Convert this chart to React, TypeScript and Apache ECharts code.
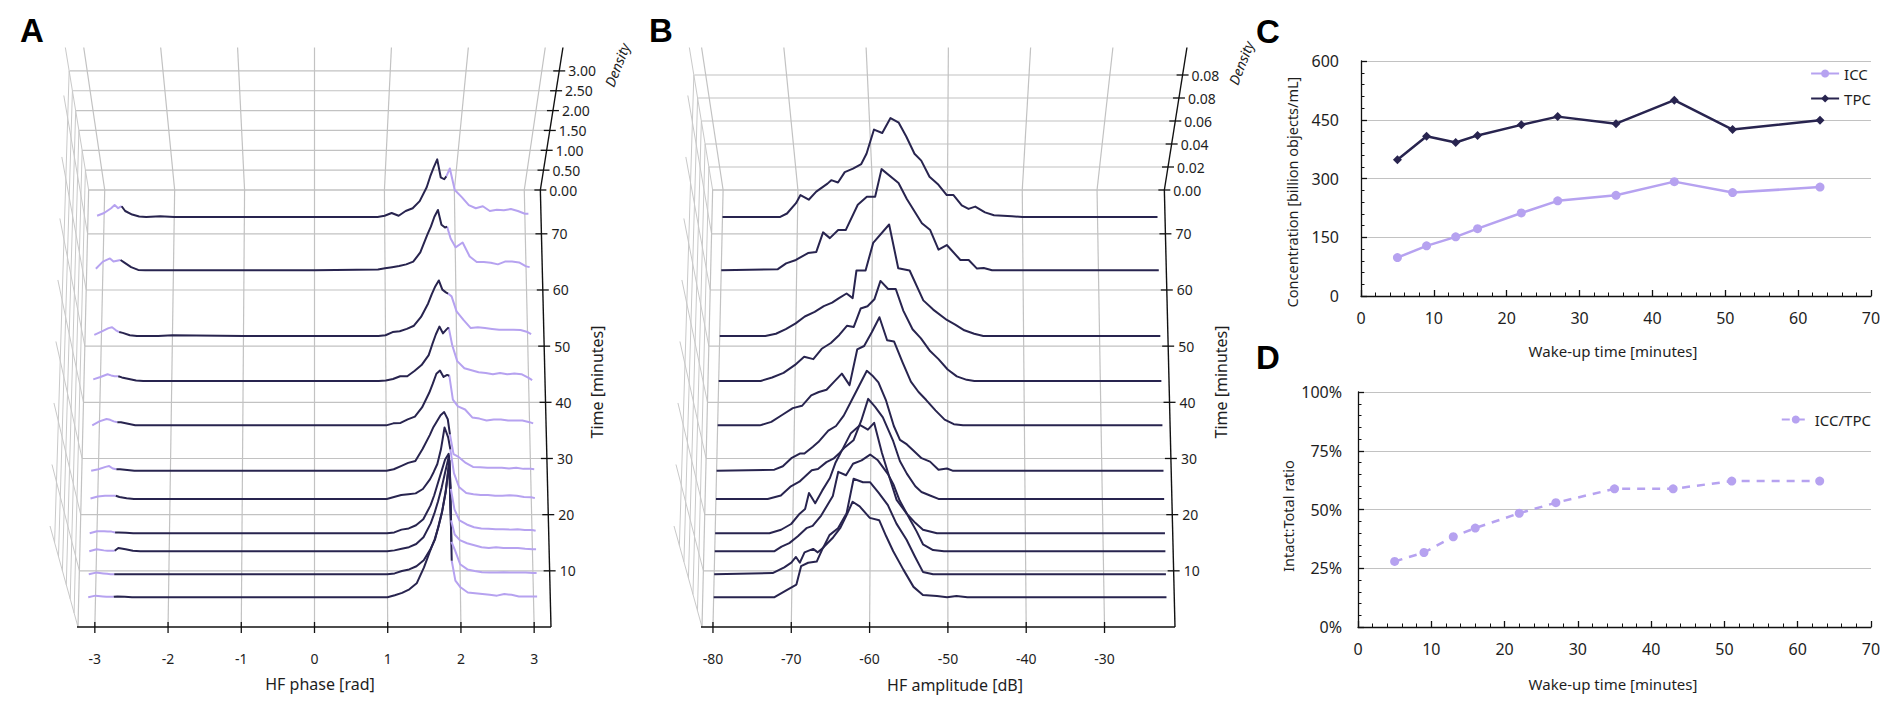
import React, { useEffect, useRef } from 'react';
import * as echarts from 'echarts';

// ---------------- Panel A: HF phase ridgelines ----------------
const A_X = [-3.1, -3.0, -2.9, -2.85, -2.8, -2.75, -2.7, -2.6, -2.5, -2.4, -2.2, -2.0, -1.0, 0, 0.9, 1.0, 1.1, 1.2, 1.3, 1.4, 1.5, 1.6, 1.65, 1.7, 1.75, 1.8, 1.85, 1.88, 1.93, 2.0, 2.1, 2.2, 2.3, 2.4, 2.5, 2.6, 2.7, 2.8, 2.9, 3.0, 3.05];
const A_TIMES = [5.3, 9.4, 13.5, 16.7, 22.8, 27.8, 35.9, 43.8, 51.8, 63.5, 73.0];
const A_T05 = [0, 0.04, 0.02, 0.01, 0.01, 0.01, 0.02, 0.01, 0, 0, 0, 0, 0, 0, 0, 0, 0.05, 0.11, 0.2, 0.35, 0.75, 1.25, 1.45, 1.8, 2.18, 2.7, 3.45, 0.92, 0.42, 0.25, 0.12, 0.1, 0.08, 0.06, 0.04, 0.08, 0.06, 0.02, 0.02, 0.02, 0.02];
const A_T09 = [0, 0.04, 0.02, 0.01, 0, 0, 0, 0, 0, 0, 0, 0, 0, 0, 0, 0, 0.02, 0.08, 0.12, 0.2, 0.35, 0.65, 0.88, 1.18, 1.55, 2.05, 2.85, 0.82, 0.6, 0.25, 0.12, 0.08, 0.05, 0.04, 0.04, 0.05, 0.04, 0.04, 0.04, 0.03, 0.03];
const A_T13 = [0, 0.05, 0.02, 0.01, 0.01, 0.01, 0.08, 0.05, 0.01, 0, 0, 0, 0, 0, 0, 0, 0.02, 0.06, 0.1, 0.18, 0.35, 0.7, 0.95, 1.25, 1.6, 2.0, 2.4, 0.78, 0.42, 0.28, 0.2, 0.15, 0.1, 0.08, 0.1, 0.08, 0.08, 0.08, 0.06, 0.05, 0.05];
const A_T16 = [0, 0.05, 0.05, 0.04, 0.04, 0.02, 0.02, 0.01, 0, 0, 0, 0, 0, 0, 0, 0, 0.02, 0.09, 0.12, 0.2, 0.35, 0.7, 0.95, 1.25, 1.55, 1.85, 2.0, 1.12, 0.6, 0.32, 0.22, 0.15, 0.12, 0.11, 0.1, 0.1, 0.09, 0.1, 0.08, 0.08, 0.06];
const A_T22 = [0.01, 0.06, 0.08, 0.08, 0.08, 0.08, 0.05, 0.02, 0, 0, 0, 0, 0, 0, 0, 0, 0.05, 0.1, 0.12, 0.14, 0.25, 0.5, 0.68, 0.88, 1.25, 1.8, 1.55, 1.25, 0.65, 0.3, 0.15, 0.12, 0.1, 0.1, 0.08, 0.08, 0.09, 0.08, 0.05, 0.04, 0.02];
const A_T27 = [0, 0.04, 0.1, 0.12, 0.06, 0.04, 0.04, 0.02, 0, 0, 0, 0, 0, 0, 0, 0, 0.04, 0.12, 0.2, 0.25, 0.55, 0.9, 1.1, 1.25, 1.4, 1.48, 1.3, 0.92, 0.42, 0.35, 0.2, 0.1, 0.09, 0.08, 0.08, 0.08, 0.06, 0.08, 0.05, 0.05, 0.04];
const A_T35 = [0, 0.1, 0.16, 0.14, 0.1, 0.08, 0.08, 0.04, 0, 0, 0, 0, 0, 0, 0, 0, 0.05, 0.06, 0.15, 0.22, 0.45, 0.82, 1.05, 1.3, 1.38, 1.22, 1.27, 1.25, 0.65, 0.48, 0.4, 0.2, 0.17, 0.12, 0.15, 0.15, 0.12, 0.12, 0.12, 0.08, 0.05];
const A_T43 = [0.04, 0.1, 0.17, 0.14, 0.12, 0.12, 0.09, 0.05, 0.01, 0, 0, 0, 0, 0, 0, 0.01, 0.05, 0.12, 0.12, 0.25, 0.4, 0.65, 0.92, 1.17, 1.37, 1.2, 1.3, 1.35, 0.9, 0.5, 0.32, 0.27, 0.22, 0.2, 0.17, 0.2, 0.17, 0.19, 0.17, 0.08, 0.02];
const A_T51 = [0.03, 0.11, 0.2, 0.22, 0.15, 0.1, 0.08, 0.02, 0, 0, 0, 0.02, 0, 0, 0, 0.02, 0.1, 0.12, 0.18, 0.26, 0.48, 0.82, 1.05, 1.25, 1.4, 1.17, 1.1, 1.07, 1.0, 0.62, 0.4, 0.2, 0.22, 0.2, 0.18, 0.16, 0.16, 0.16, 0.15, 0.1, 0.05];
const A_T63 = [0.04, 0.22, 0.3, 0.22, 0.24, 0.26, 0.2, 0.08, 0.01, 0, 0, 0, 0, 0, 0.02, 0.05, 0.08, 0.11, 0.15, 0.22, 0.45, 0.9, 1.1, 1.35, 1.52, 1.15, 1.08, 1.1, 0.8, 0.58, 0.7, 0.35, 0.21, 0.21, 0.19, 0.15, 0.22, 0.22, 0.2, 0.1, 0.08];
const A_T73 = [0.03, 0.1, 0.22, 0.3, 0.22, 0.27, 0.15, 0.06, 0.01, 0, 0.02, 0, 0, 0, 0, 0.03, 0.1, 0.03, 0.15, 0.22, 0.4, 0.75, 1.02, 1.25, 1.45, 1.0, 0.95, 1.02, 1.22, 0.68, 0.5, 0.3, 0.22, 0.27, 0.15, 0.18, 0.17, 0.2, 0.15, 0.08, 0.08];
const A_CURVES = [A_T05, A_T09, A_T13, A_T16, A_T22, A_T27, A_T35, A_T43, A_T51, A_T63, A_T73];
const A_DARK_FROM = -2.75;
const A_DARK_TO = 1.88;
const A_X_TICKS = [-3, -2, -1, 0, 1, 2, 3];
const A_D_TICKS = [0, 0.5, 1, 1.5, 2, 2.5, 3];
const A_D_LABELS = ['0.00', '0.50', '1.00', '1.50', '2.00', '2.50', '3.00'];

// ---------------- Panel B: HF amplitude ridgelines ----------------
const B_TIMES = [5.3, 9.4, 13.5, 16.7, 22.8, 27.8, 35.9, 43.8, 51.8, 63.5, 73.0];
const B_T05 = [[-80, 0], [-72.2, 0], [-70.7, 0.006], [-69.4, 0.011], [-68.8, 0.027], [-67.9, 0.03], [-66.8, 0.031], [-66, 0.043], [-64.7, 0.052], [-63.8, 0.06], [-63, 0.071], [-62.2, 0.083], [-61.3, 0.079], [-60, 0.069], [-58.8, 0.067], [-57.9, 0.053], [-57, 0.04], [-55.7, 0.024], [-54.4, 0.009], [-53.2, 0.002], [-51.4, 0.001], [-50.1, 0], [-48.9, 0.001], [-47.5, 0], [-22, 0]];
const B_T09 = [[-80, 0], [-72.5, 0.001], [-71, 0.006], [-70.1, 0.01], [-69.5, 0.015], [-69, 0.01], [-68.4, 0.019], [-67.3, 0.022], [-66.7, 0.019], [-66, 0.023], [-65.2, 0.034], [-64.1, 0.04], [-63, 0.053], [-62.1, 0.083], [-60.9, 0.08], [-60, 0.08], [-58.9, 0.071], [-57.7, 0.06], [-56.6, 0.044], [-55.3, 0.03], [-54.2, 0.015], [-53.2, 0.002], [-51.9, 0], [-22, 0]];
const B_T13 = [[-80, 0], [-72.3, 0], [-71.4, 0.004], [-70.4, 0.007], [-69.3, 0.013], [-68.2, 0.02], [-67.4, 0.022], [-66.3, 0.031], [-64.8, 0.048], [-64.1, 0.069], [-63.1, 0.066], [-62.2, 0.076], [-61.1, 0.079], [-60, 0.084], [-59, 0.079], [-57.7, 0.067], [-57, 0.058], [-56.2, 0.044], [-54.9, 0.028], [-54, 0.017], [-53.2, 0.006], [-51.9, 0.001], [-50.5, 0], [-22, 0]];
const B_T16 = [[-80, 0], [-73, 0], [-71.5, 0.003], [-70.2, 0.008], [-69.1, 0.017], [-68.4, 0.021], [-67.9, 0.035], [-67.1, 0.026], [-66.2, 0.037], [-65.2, 0.048], [-64.5, 0.061], [-63.5, 0.074], [-62.5, 0.087], [-61.3, 0.094], [-60.3, 0.09], [-59.5, 0.096], [-58.5, 0.07], [-57.5, 0.048], [-56.6, 0.029], [-55.3, 0.017], [-54.2, 0.009], [-53.2, 0.003], [-51.4, 0], [-22, 0]];
const B_T22 = [[-80, 0], [-73.3, 0], [-71.6, 0.003], [-70.3, 0.011], [-69.2, 0.015], [-67.6, 0.025], [-66.8, 0.026], [-65.7, 0.032], [-64.8, 0.035], [-64, 0.04], [-63.3, 0.045], [-62.2, 0.051], [-61.2, 0.068], [-60.3, 0.087], [-59.4, 0.08], [-58.4, 0.071], [-57.1, 0.051], [-56.2, 0.033], [-55.3, 0.022], [-54.2, 0.011], [-53.4, 0.006], [-52.3, 0.003], [-51.2, 0], [-22, 0]];
const B_T27 = [[-80, 0], [-72.5, 0.001], [-71.4, 0.004], [-70.3, 0.011], [-69.2, 0.015], [-68.6, 0.015], [-67.5, 0.021], [-66.8, 0.025], [-65.5, 0.035], [-64.5, 0.039], [-63.5, 0.048], [-62.5, 0.061], [-61.5, 0.074], [-60.5, 0.087], [-59.8, 0.083], [-59, 0.077], [-58, 0.061], [-57, 0.039], [-56.2, 0.027], [-55.3, 0.023], [-54.5, 0.018], [-53.4, 0.011], [-52.3, 0.008], [-51.2, 0.001], [-50.1, 0.002], [-49.3, 0], [-22, 0]];
const B_T35 = [[-80, 0], [-74.5, 0], [-73, 0.003], [-71.6, 0.009], [-70.2, 0.015], [-69, 0.017], [-67.8, 0.026], [-66.8, 0.029], [-65.8, 0.031], [-64.8, 0.038], [-63.8, 0.045], [-62.8, 0.035], [-61.8, 0.066], [-60.9, 0.069], [-59.9, 0.081], [-58.9, 0.094], [-57.9, 0.074], [-57, 0.073], [-55.9, 0.055], [-54.8, 0.038], [-53.8, 0.029], [-52.8, 0.022], [-51.6, 0.013], [-50.4, 0.005], [-49.2, 0.001], [-48, 0], [-22, 0]];
const B_T43 = [[-80, 0], [-74.5, 0], [-73, 0.003], [-71.5, 0.007], [-70, 0.014], [-68.8, 0.021], [-67.6, 0.019], [-66.5, 0.028], [-65.3, 0.033], [-64.2, 0.04], [-63.2, 0.048], [-62.3, 0.047], [-61.4, 0.063], [-60.5, 0.065], [-59.6, 0.071], [-58.8, 0.087], [-57.8, 0.08], [-56.8, 0.08], [-55.8, 0.061], [-54.6, 0.045], [-53.5, 0.037], [-52.3, 0.026], [-51.2, 0.019], [-50, 0.01], [-48.8, 0.004], [-47.5, 0.001], [-46.5, 0], [-22, 0]];
const B_T51 = [[-80, 0], [-74, 0], [-72.6, 0.002], [-71.3, 0.006], [-70, 0.011], [-68.8, 0.017], [-67.5, 0.021], [-66.3, 0.026], [-65.2, 0.029], [-64.3, 0.033], [-63.3, 0.037], [-62.5, 0.033], [-62, 0.057], [-60.8, 0.057], [-59.8, 0.081], [-57.7, 0.097], [-56.5, 0.059], [-55, 0.057], [-53.2, 0.031], [-51.9, 0.023], [-50.1, 0.014], [-49, 0.01], [-47.8, 0.005], [-46.5, 0.002], [-45.3, 0], [-22, 0]];
const B_T63 = [[-80, 0], [-72.5, 0.001], [-71.4, 0.006], [-70.1, 0.009], [-68.5, 0.015], [-67.4, 0.016], [-66.5, 0.033], [-65.6, 0.028], [-64.5, 0.035], [-63.5, 0.035], [-61.9, 0.057], [-60.7, 0.064], [-59.6, 0.064], [-58.75, 0.088], [-56.5, 0.076], [-55.4, 0.062], [-53.4, 0.041], [-52.3, 0.035], [-51.2, 0.018], [-50.1, 0.022], [-48.3, 0.009], [-47.2, 0.009], [-46.1, 0.0015], [-45.2, 0.002], [-44.1, 0], [-22, 0]];
const B_T73 = [[-80, 0], [-72.3, 0], [-71.4, 0.003], [-70.2, 0.012], [-69.6, 0.019], [-68.5, 0.015], [-67.5, 0.022], [-66, 0.029], [-65.5, 0.032], [-64.6, 0.03], [-63.7, 0.039], [-62.6, 0.042], [-61.5, 0.046], [-60.8, 0.055], [-59.8, 0.076], [-58.7, 0.073], [-57.6, 0.086], [-56.5, 0.082], [-55.5, 0.07], [-54.4, 0.055], [-53.5, 0.049], [-52.4, 0.035], [-51.2, 0.028], [-50.1, 0.019], [-49.2, 0.019], [-48.1, 0.01], [-47.2, 0.007], [-46.3, 0.009], [-45, 0.004], [-43.8, 0.0015], [-41.4, 0.0006], [-40, 0], [-22, 0]];
const B_CURVES = [B_T05, B_T09, B_T13, B_T16, B_T22, B_T27, B_T35, B_T43, B_T51, B_T63, B_T73];
const B_X_TICKS = [-80, -70, -60, -50, -40, -30];
const B_D_TICKS = [0, 0.02, 0.04, 0.06, 0.08, 0.1];
const B_D_LABELS = ['0.00', '0.02', '0.04', '0.06', '0.08', '0.08'];

// shared time axis of the ridgeline panels
const TIME_TICKS = [10, 20, 30, 40, 50, 60, 70];
const T_MAX = 77.8;

// ---------------- Panels C and D ----------------
const WAKE_TIME = [5, 9, 13, 16, 22, 27, 35, 43, 51, 63];
const ICC = [98, 128, 151, 172, 212, 243, 257, 292, 264, 278];
const TPC = [348, 408, 392, 410, 437, 458, 440, 500, 425, 449];
const RATIO = [0.279, 0.317, 0.384, 0.421, 0.484, 0.529, 0.588, 0.588, 0.621, 0.621];

// ---------------- styling ----------------
const FONT = "'Noto Sans', 'Open Sans', sans-serif";
const INK = '#1e1e1e';
const DARK = '#28244f';
const PURPLE = '#b6a2f0';
const GRID_GRAY = '#c2c2c2';
const WALL_GRAY = '#c9c9c9';
const AXIS = '#111111';

// projection geometry (pixels)
const BACK_RATIO = 0.955;
const WALL_PX = 142.5;
const FRONT_WALL_PX = 101;
const FRONT_LEAN = -28;
const BACK_LEAN = -23.3;
const TOP_EXPAND = 0.1;

const PANEL_A = {
  xMin: -3.23, xMax: 3.23, xMid: 0, k: 39.7,
  xTicks: A_X_TICKS, dTicks: A_D_TICKS, dLabels: A_D_LABELS,
  title: 'HF phase [rad]', titleX: 320, titleY: 684,
  timeTitleX: 597, densX: 617, densY: 65,
};
const PANEL_B = {
  xMin: -81.4, xMax: -21, xMid: -51.2, k: 1150,
  xTicks: B_X_TICKS, dTicks: B_D_TICKS, dLabels: B_D_LABELS,
  title: 'HF amplitude [dB]', titleX: 955, titleY: 685,
  timeTitleX: 1221, densX: 1241, densY: 63,
};

function makeProj(api: any, cfg: any) {
  const c0 = api.coord([cfg.xMid, 0]);
  const cB = api.coord([cfg.xMid, T_MAX]);
  const cx = c0[0];
  const yFront = c0[1];
  const yBack = cB[1];
  const persp = (fy: number) => BACK_RATIO + (1 - BACK_RATIO) * (fy - yBack) / (yFront - yBack);
  const floor = (x: number, t: number) => {
    const c = api.coord([x, t]);
    return [cx + (c[0] - cx) * persp(c[1]), c[1]];
  };
  const curve = (x: number, t: number, d: number) => {
    const p = floor(x, t);
    return [p[0], p[1] - d * cfg.k];
  };
  const back = (x: number, d: number) => {
    const c = api.coord([x, T_MAX]);
    const h = d * cfg.k;
    return [cx + (c[0] - cx) * BACK_RATIO * (1 + TOP_EXPAND * h / WALL_PX), c[1] - h];
  };
  const left = (t: number, f: number) => {
    const p = floor(cfg.xMin, t);
    const u = t / T_MAX;
    const h = FRONT_WALL_PX + (WALL_PX - FRONT_WALL_PX) * u;
    const dx = FRONT_LEAN + (BACK_LEAN - FRONT_LEAN) * u;
    return [p[0] + dx * f, p[1] - h * f];
  };
  return { floor, curve, back, left };
}

function frameRenderer(cfg: any) {
  return (params: any, api: any) => {
    const P = makeProj(api, cfg);
    const dTop = WALL_PX / cfg.k;
    const ch: any[] = [];
    const ln = (a: number[], b: number[], color: string, w: number) =>
      ch.push({ type: 'line', silent: true, shape: { x1: a[0], y1: a[1], x2: b[0], y2: b[1] }, style: { stroke: color, lineWidth: w } });
    const tx = (x: number, y: number, text: string, o: any = {}) =>
      ch.push({
        type: 'text', silent: true, x, y, rotation: o.rotation || 0,
        style: {
          text, fill: INK, fontSize: o.size || 14, fontFamily: FONT,
          fontStyle: o.italic ? 'italic' : 'normal',
          align: o.align || 'left', verticalAlign: 'middle',
        },
      });

    // left wall
    const wallTimes = [0, ...TIME_TICKS, T_MAX];
    wallTimes.forEach((t) => ln(P.left(t, 0), P.left(t, 1), WALL_GRAY, 1));
    cfg.dTicks.forEach((d: number) => {
      if (d > 0) ln(P.left(T_MAX, d / dTop), P.left(0, d / dTop), WALL_GRAY, 1);
    });
    // floor
    ln(P.floor(cfg.xMin, 0), P.floor(cfg.xMin, T_MAX), GRID_GRAY, 1.2);
    cfg.xTicks.forEach((x: number) => ln(P.floor(x, 0), P.floor(x, T_MAX), GRID_GRAY, 1.2));
    [...TIME_TICKS, T_MAX].forEach((t) => ln(P.floor(cfg.xMin, t), P.floor(cfg.xMax, t), GRID_GRAY, 1.2));
    // back wall
    cfg.xTicks.forEach((x: number) => ln(P.back(x, 0), P.back(x, dTop), GRID_GRAY, 1.2));
    cfg.dTicks.forEach((d: number) => ln(P.back(cfg.xMin, d), P.back(cfg.xMax, d), GRID_GRAY, 1.2));

    // front (x) axis
    const f0 = P.floor(cfg.xMin, 0);
    const f1 = P.floor(cfg.xMax, 0);
    ln([f0[0] - 1, f0[1]], f1, AXIS, 1.4);
    cfg.xTicks.forEach((x: number) => {
      const p = P.floor(x, 0);
      ln([p[0], p[1] - 5], [p[0], p[1] + 6], AXIS, 1.3);
      tx(p[0], p[1] + 31, String(x), { align: 'center' });
    });
    // time axis (right)
    ln(f1, P.floor(cfg.xMax, T_MAX), AXIS, 1.4);
    TIME_TICKS.forEach((t) => {
      const p = P.floor(cfg.xMax, t);
      ln([p[0] - 6, p[1]], [p[0] + 6, p[1]], AXIS, 1.3);
      tx(p[0] + 10, p[1], String(t));
    });
    // density axis (back wall, right)
    ln(P.back(cfg.xMax, 0), P.back(cfg.xMax, dTop), AXIS, 1.4);
    cfg.dTicks.forEach((d: number, i: number) => {
      const p = P.back(cfg.xMax, d);
      ln([p[0] - 6, p[1]], [p[0] + 6, p[1]], AXIS, 1.3);
      tx(p[0] + 9, p[1], cfg.dLabels[i]);
    });
    // titles
    tx(cfg.titleX, cfg.titleY, cfg.title, { align: 'center', size: 16 });
    tx(cfg.timeTitleX, 382, 'Time [minutes]', { align: 'center', size: 16, rotation: Math.PI / 2 });
    tx(cfg.densX, cfg.densY, 'Density', { align: 'center', size: 14, italic: true, rotation: 1.2 });
    return { type: 'group', children: ch };
  };
}

function curvesRendererA(cfg: any) {
  return (params: any, api: any) => {
    const P = makeProj(api, cfg);
    const i = params.dataIndex;
    const t = A_TIMES[i];
    const dens = A_CURVES[i];
    const leftPts: number[][] = [];
    const midPts: number[][] = [];
    const rightPts: number[][] = [];
    A_X.forEach((x, j) => {
      const p = P.curve(x, t, dens[j]);
      if (x <= A_DARK_FROM) leftPts.push(p);
      if (x >= A_DARK_FROM && x <= A_DARK_TO) midPts.push(p);
      if (x >= A_DARK_TO) rightPts.push(p);
    });
    const poly = (pts: number[][], color: string) => ({
      type: 'polyline', silent: true, shape: { points: pts },
      style: { stroke: color, lineWidth: 2, fill: 'none', lineJoin: 'round' },
    });
    return { type: 'group', children: [poly(leftPts, PURPLE), poly(rightPts, PURPLE), poly(midPts, DARK)] };
  };
}

function curvesRendererB(cfg: any) {
  return (params: any, api: any) => {
    const P = makeProj(api, cfg);
    const i = params.dataIndex;
    const t = B_TIMES[i];
    const pts = B_CURVES[i].map(([x, d]) => P.curve(x, t, d));
    return {
      type: 'polyline', silent: true, shape: { points: pts },
      style: { stroke: DARK, lineWidth: 2, fill: 'none', lineJoin: 'round' },
    };
  };
}

function valueAxisX(gridIndex: number, margin: number) {
  return {
    gridIndex, type: 'value', min: 0, max: 70, interval: 10,
    axisLine: { show: true, onZero: false, lineStyle: { color: AXIS, width: 1.3 } },
    axisTick: { show: true, inside: true, length: 6, lineStyle: { color: AXIS, width: 1.3 } },
    minorTick: { show: true, splitNumber: 5, length: 3.5, lineStyle: { color: AXIS, width: 1 } },
    axisLabel: { fontSize: 16, fontFamily: FONT, color: INK, margin },
    splitLine: { show: false },
  };
}

function buildOption(): any {
  const hiddenX = (gridIndex: number, cfg: any) => ({ gridIndex, type: 'value', min: cfg.xMin, max: cfg.xMax, show: false });
  const hiddenY = (gridIndex: number) => ({ gridIndex, type: 'value', min: 0, max: T_MAX, show: false });
  const nameStyle = { fill: INK, fontSize: 15, fontFamily: FONT, align: 'center', verticalAlign: 'middle' };
  const yNameStyle = { fill: INK, fontSize: 14.5, fontFamily: FONT, align: 'center', verticalAlign: 'middle' };
  const letter = (text: string, x: number, y: number) => ({
    type: 'text', x, y, silent: true,
    style: { text, fill: '#000', fontSize: 33, fontWeight: 'bold', fontFamily: "'Liberation Sans', Arial, sans-serif", align: 'center', verticalAlign: 'middle' },
  });
  const legendBase = {
    orient: 'vertical', right: 31, padding: 0, itemGap: 10, itemWidth: 28, itemHeight: 10,
    selectedMode: false,
    textStyle: { fontSize: 15, fontFamily: FONT, color: INK },
  };

  return {
    animation: false,
    backgroundColor: '#ffffff',
    grid: [
      { left: 78, top: 190, width: 473, height: 437, containLabel: false, outerBoundsMode: 'none' },
      { left: 702, top: 190, width: 473, height: 437, containLabel: false, outerBoundsMode: 'none' },
      { left: 1361, top: 61, width: 510, height: 235, containLabel: false, outerBoundsMode: 'none' },
      { left: 1358, top: 392, width: 513, height: 235, containLabel: false, outerBoundsMode: 'none' },
    ],
    xAxis: [
      hiddenX(0, PANEL_A),
      hiddenX(1, PANEL_B),
      valueAxisX(2, 14),
      valueAxisX(3, 14),
    ],
    yAxis: [
      hiddenY(0),
      hiddenY(1),
      {
        gridIndex: 2, type: 'value', min: 0, max: 600, interval: 150,
        axisLine: { show: true, onZero: false, lineStyle: { color: AXIS, width: 1.3 } },
        axisTick: { show: true, inside: true, length: 6, lineStyle: { color: AXIS, width: 1.3 } },
        minorTick: { show: true, splitNumber: 5, length: 3.5, lineStyle: { color: AXIS, width: 1 } },
        axisLabel: { fontSize: 16, fontFamily: FONT, color: INK, margin: 22 },
        splitLine: { show: true, lineStyle: { color: GRID_GRAY, width: 1.2 } },
      },
      {
        gridIndex: 3, type: 'value', min: 0, max: 1, interval: 0.25,
        axisLine: { show: true, onZero: false, lineStyle: { color: AXIS, width: 1.3 } },
        axisTick: { show: true, inside: true, length: 6, lineStyle: { color: AXIS, width: 1.3 } },
        minorTick: { show: true, splitNumber: 5, length: 3.5, lineStyle: { color: AXIS, width: 1 } },
        axisLabel: { fontSize: 16, fontFamily: FONT, color: INK, margin: 16, formatter: (v: number) => Math.round(v * 100) + '%' },
        splitLine: { show: true, lineStyle: { color: GRID_GRAY, width: 1.2 } },
      },
    ],
    legend: [
      { ...legendBase, top: 66, data: ['ICC', 'TPC'] },
      { ...legendBase, top: 412, data: ['ICC/TPC'] },
    ],
    graphic: [
      letter('A', 32, 30),
      letter('B', 661, 30),
      letter('C', 1268, 31),
      letter('D', 1268, 357),
      { type: 'text', x: 1613, y: 351, silent: true, style: { ...nameStyle, text: 'Wake-up time [minutes]' } },
      { type: 'text', x: 1613, y: 684, silent: true, style: { ...nameStyle, text: 'Wake-up time [minutes]' } },
      { type: 'text', x: 1292, y: 192, rotation: Math.PI / 2, silent: true, style: { ...yNameStyle, text: 'Concentration [billion objects/mL]' } },
      { type: 'text', x: 1288, y: 516, rotation: Math.PI / 2, silent: true, style: { ...yNameStyle, text: 'Intact:Total ratio' } },
    ],
    series: [
      {
        type: 'custom', name: 'frameA', coordinateSystem: 'cartesian2d', xAxisIndex: 0, yAxisIndex: 0,
        silent: true, z: 1, data: [[PANEL_A.xMid, 0]], renderItem: frameRenderer(PANEL_A),
      },
      {
        type: 'custom', name: 'frameB', coordinateSystem: 'cartesian2d', xAxisIndex: 1, yAxisIndex: 1,
        silent: true, z: 1, data: [[PANEL_B.xMid, 0]], renderItem: frameRenderer(PANEL_B),
      },
      {
        type: 'custom', name: 'phase', coordinateSystem: 'cartesian2d', xAxisIndex: 0, yAxisIndex: 0,
        silent: true, z: 3, data: A_TIMES.map((t) => [0, t]), renderItem: curvesRendererA(PANEL_A),
      },
      {
        type: 'custom', name: 'amplitude', coordinateSystem: 'cartesian2d', xAxisIndex: 1, yAxisIndex: 1,
        silent: true, z: 3, data: B_TIMES.map((t) => [PANEL_B.xMid, t]), renderItem: curvesRendererB(PANEL_B),
      },
      {
        type: 'line', name: 'ICC', xAxisIndex: 2, yAxisIndex: 2,
        data: WAKE_TIME.map((t, i) => [t, ICC[i]]),
        symbol: 'circle', symbolSize: 9,
        lineStyle: { color: PURPLE, width: 2.5 }, itemStyle: { color: PURPLE },
      },
      {
        type: 'line', name: 'TPC', xAxisIndex: 2, yAxisIndex: 2,
        data: WAKE_TIME.map((t, i) => [t, TPC[i]]),
        symbol: 'diamond', symbolSize: 9,
        lineStyle: { color: DARK, width: 2.5 }, itemStyle: { color: DARK },
      },
      {
        type: 'line', name: 'ICC/TPC', xAxisIndex: 3, yAxisIndex: 3,
        data: WAKE_TIME.map((t, i) => [t, RATIO[i]]),
        symbol: 'circle', symbolSize: 9,
        lineStyle: { color: PURPLE, width: 2.5, type: [8, 7] }, itemStyle: { color: PURPLE },
      },
    ],
  };
}

export default function App() {
  const ref = useRef<HTMLDivElement>(null);
  useEffect(() => {
    document.body.style.margin = '0';
    const chart = echarts.init(ref.current as HTMLDivElement, null, { renderer: 'svg' });
    chart.setOption(buildOption());
    return () => chart.dispose();
  }, []);
  return <div ref={ref} style={{ width: 1902, height: 711, background: '#ffffff' }} />;
}
